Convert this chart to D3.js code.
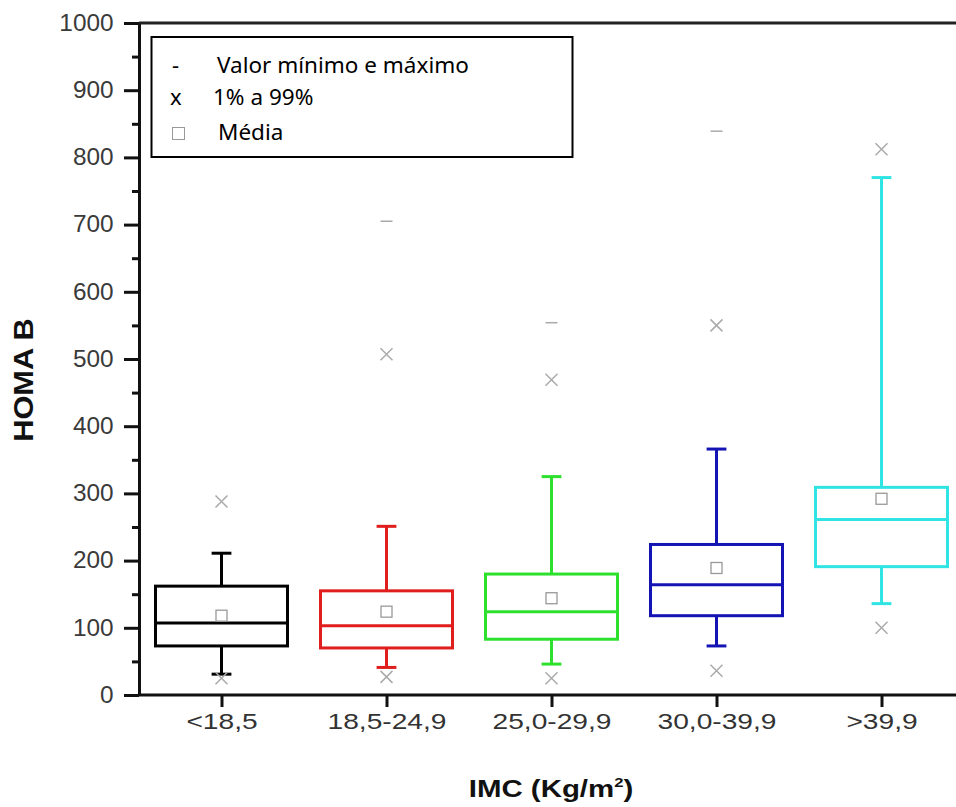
<!DOCTYPE html>
<html>
<head>
<meta charset="utf-8">
<script src="https://d3js.org/d3.v7.min.js"></script>
<style>
  body { margin: 0; background: #fff; }
  svg { display: block; }
</style>
</head>
<body>
<div id="target"></div>
<script>
// categories and box statistics
var categories = ['<18,5', '18,5-24,9', '25,0-29,9', '30,0-39,9', '>39,9'];
var colors = ['#000000', '#e01e1e', '#2ee02e', '#1414b4', '#30e4e4'];
var q1 = [73, 70, 83, 118, 191];
var median = [107, 103, 124, 164, 261];
var q3 = [162, 155, 180, 224, 309];
var whiskerLow = [31, 41, 46, 73, 136];
var whiskerHigh = [211, 251, 325, 366, 770];
var mean = [118, 124, 144, 189, 292];
var p1 = [25, 27, 25, 36, 100];
var p99 = [288, 507, 469, 550, 812];
var maxVal = [null, 705, 554, 839, null];
var yTicks = [0, 100, 200, 300, 400, 500, 600, 700, 800, 900, 1000];
var yMinor = [50, 150, 250, 350, 450, 550, 650, 750, 850, 950];
var legendLabels = ['Valor mínimo e máximo', '1% a 99%', 'Média'];

var W = 956, H = 807;
var svg = d3.select('#target').append('svg')
    .attr('width', W).attr('height', H);

var x = d3.scaleLinear().domain([0.5, 5.5]).range([139, 964]);
var y = d3.scaleLinear().domain([0, 1000]).range([695, 23]);

// top frame line
svg.append('line')
    .attr('x1', x(0.5)).attr('x2', W)
    .attr('y1', y(1000)).attr('y2', y(1000))
    .attr('stroke', '#222').attr('stroke-width', 3);

// y axis
var yAxis = svg.append('g')
    .attr('transform', 'translate(' + x(0.5) + ',0)')
    .call(d3.axisLeft(y).tickValues(yTicks).tickFormat(d3.format('d'))
        .tickSize(15).tickSizeOuter(0).tickPadding(9));
svg.append('g')
    .attr('transform', 'translate(' + x(0.5) + ',0)')
    .call(d3.axisLeft(y).tickValues(yMinor).tickSize(7).tickFormat(''))
    .select('.domain').remove();

// x axis
var xAxis = svg.append('g')
    .attr('transform', 'translate(0,' + y(0) + ')')
    .call(d3.axisBottom(x).tickValues([1, 2, 3, 4, 5])
        .tickFormat(function(d) { return categories[d - 1]; })
        .tickSize(12).tickSizeOuter(0).tickPadding(6));
xAxis.select('.domain').attr('d', 'M' + x(0.5) + ',0H' + W);

svg.selectAll('.domain, .tick line')
    .attr('stroke', '#111').attr('stroke-width', 3);
yAxis.selectAll('text')
    .attr('font-family', 'Liberation Sans, Arial, sans-serif')
    .attr('font-size', 23).attr('fill', '#3a3a3a')
    .attr('transform', 'scale(1.06,1)');
xAxis.selectAll('text')
    .attr('font-family', 'Liberation Sans, Arial, sans-serif')
    .attr('font-size', 22).attr('fill', '#333')
    .attr('transform', 'scale(1.28,1)');

// axis titles
svg.append('text')
    .attr('transform', 'translate(33,380) rotate(-90) scale(1.1,1)')
    .attr('text-anchor', 'middle')
    .attr('font-family', 'Liberation Sans, Arial, sans-serif')
    .attr('font-weight', 'bold').attr('font-size', 28).attr('fill', '#111')
    .text('HOMA B');

var xt = svg.append('text')
    .attr('transform', 'translate(551,797) scale(1.28,1)')
    .attr('text-anchor', 'middle')
    .attr('font-family', 'Liberation Sans, Arial, sans-serif')
    .attr('font-weight', 'bold').attr('font-size', 23).attr('fill', '#111');
xt.append('tspan').text('IMC (Kg/m');
xt.append('tspan').attr('font-size', 13).attr('dy', -10).text('2');
xt.append('tspan').attr('dy', 10).text(')');

// boxes
var half = 0.4, cap = 0.06;
var idx = d3.range(categories.length);
var g = svg.selectAll('g.box').data(idx).enter().append('g').attr('class', 'box');

g.each(function(i) {
    var s = d3.select(this);
    var c = colors[i], cx = x(i + 1);
    var sw = 3;
    // whiskers
    s.append('line').attr('x1', cx).attr('x2', cx)
        .attr('y1', y(q3[i])).attr('y2', y(whiskerHigh[i]))
        .attr('stroke', c).attr('stroke-width', sw);
    s.append('line').attr('x1', cx).attr('x2', cx)
        .attr('y1', y(q1[i])).attr('y2', y(whiskerLow[i]))
        .attr('stroke', c).attr('stroke-width', sw);
    [whiskerHigh[i], whiskerLow[i]].forEach(function(v) {
        s.append('line').attr('x1', x(i + 1 - cap)).attr('x2', x(i + 1 + cap))
            .attr('y1', y(v)).attr('y2', y(v))
            .attr('stroke', c).attr('stroke-width', sw);
    });
    // box
    s.append('rect')
        .attr('x', x(i + 1 - half)).attr('width', x(i + 1 + half) - x(i + 1 - half))
        .attr('y', y(q3[i])).attr('height', y(q1[i]) - y(q3[i]))
        .attr('fill', 'none').attr('stroke', c).attr('stroke-width', sw);
    s.append('line')
        .attr('x1', x(i + 1 - half)).attr('x2', x(i + 1 + half))
        .attr('y1', y(median[i])).attr('y2', y(median[i]))
        .attr('stroke', c).attr('stroke-width', sw);
    // mean square
    s.append('rect')
        .attr('x', cx - 5.5).attr('y', y(mean[i]) - 5.5)
        .attr('width', 11).attr('height', 11)
        .attr('fill', 'none').attr('stroke', '#999').attr('stroke-width', 1.3);
    // 1% and 99% crosses
    [p1[i], p99[i]].forEach(function(v) {
        var py = y(v);
        s.append('path')
            .attr('d', 'M' + (cx - 6) + ',' + (py - 6) + 'L' + (cx + 6) + ',' + (py + 6) +
                'M' + (cx - 6) + ',' + (py + 6) + 'L' + (cx + 6) + ',' + (py - 6))
            .attr('stroke', '#aaa').attr('stroke-width', 1.5).attr('fill', 'none');
    });
    // max dash
    if (maxVal[i] != null) {
        s.append('line').attr('x1', cx - 6).attr('x2', cx + 6)
            .attr('y1', y(maxVal[i])).attr('y2', y(maxVal[i]))
            .attr('stroke', '#aaa').attr('stroke-width', 1.5);
    }
});

// legend
var lg = svg.append('g');
lg.append('rect')
    .attr('x', 151.5).attr('y', 37).attr('width', 421).attr('height', 120)
    .attr('fill', '#fff').attr('stroke', '#000').attr('stroke-width', 2);
var lf = 'Noto Sans, Open Sans, sans-serif';
lg.append('text').attr('x', 172).attr('y', 73).attr('font-family', lf)
    .attr('font-size', 22).text('-');
lg.append('text').attr('x', 170).attr('y', 105).attr('font-family', lf)
    .attr('font-size', 22).text('x');
lg.append('rect').attr('x', 172.5).attr('y', 127.5).attr('width', 12).attr('height', 12)
    .attr('fill', 'none').attr('stroke', '#999').attr('stroke-width', 1);
var lx = [217, 213, 218], ly = [73, 105, 140];
legendLabels.forEach(function(t, k) {
    lg.append('text').attr('x', lx[k]).attr('y', ly[k])
        .attr('font-family', lf).attr('font-size', 22.5).attr('fill', '#000')
        .text(t);
});
</script>
</body>
</html>
